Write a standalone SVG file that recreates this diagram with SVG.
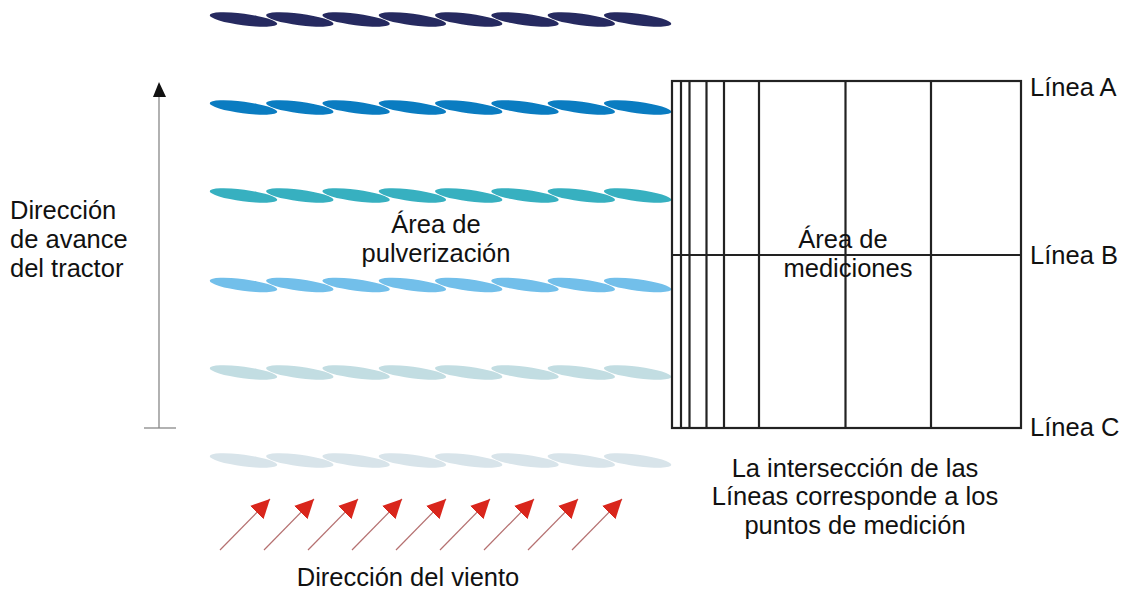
<svg xmlns="http://www.w3.org/2000/svg" width="1131" height="589" viewBox="0 0 1131 589">
<defs>
<style>
text{font-family:"Liberation Sans",Arial,sans-serif;font-size:25.5px;fill:#111}
.grid line,.grid rect{stroke:#222;stroke-width:2.2;fill:none}
.wind line{stroke:#b57070;stroke-width:1.2}
</style>
<ellipse id="e" cx="0" cy="0" rx="34" ry="5.8" transform="rotate(7.5)"/>
<g id="row">
<use href="#e" x="243.5"/><use href="#e" x="299.8"/><use href="#e" x="356.1"/><use href="#e" x="412.4"/>
<use href="#e" x="468.7"/><use href="#e" x="525"/><use href="#e" x="581.3"/><use href="#e" x="637.6"/>
</g>
<marker id="wh" viewBox="0 0 10 10" refX="10" refY="5" markerWidth="19" markerHeight="19" markerUnits="userSpaceOnUse" orient="auto">
<path d="M0,0 L10,5 L0,10 z" fill="#d9261c"/>
</marker>
</defs>
<rect width="1131" height="589" fill="#fff"/>
<g id="spray-rows">
<use href="#row" y="19.5" fill="#262a60"/>
<use href="#row" y="107.5" fill="#0a7cc1"/>
<use href="#row" y="195.5" fill="#37b0c0"/>
<use href="#row" y="285" fill="#72bfea"/>
<use href="#row" y="372.5" fill="#c2dde2"/>
<use href="#row" y="460.5" fill="#d8e4ea"/>
</g>
<g id="tractor-arrow">
<line x1="159" y1="428" x2="159" y2="95" stroke="#888" stroke-width="1.3"/>
<polygon points="159,82 153,97 166,97" fill="#111"/>
<line x1="144" y1="428" x2="176" y2="428" stroke="#888" stroke-width="1.3"/>
</g>
<g id="tractor-label">
<text x="10" y="219">Dirección</text>
<text x="10" y="248">de avance</text>
<text x="10" y="277">del tractor</text>
</g>
<g id="spray-label">
<text x="436" y="233" text-anchor="middle">Área de</text>
<text x="436" y="262" text-anchor="middle">pulverización</text>
</g>
<g id="measure-grid" class="grid">
<rect x="672" y="81" width="349" height="347"/>
<line x1="681" y1="81" x2="681" y2="428"/>
<line x1="689.5" y1="81" x2="689.5" y2="428"/>
<line x1="706.5" y1="81" x2="706.5" y2="428"/>
<line x1="724" y1="81" x2="724" y2="428"/>
<line x1="759" y1="81" x2="759" y2="428"/>
<line x1="845.5" y1="81" x2="845.5" y2="428"/>
<line x1="931" y1="81" x2="931" y2="428"/>
<line x1="672" y1="255" x2="1021" y2="255"/>
</g>
<g id="measure-label">
<text x="843" y="248" text-anchor="middle">Área de</text>
<text x="848" y="277" text-anchor="middle">mediciones</text>
</g>
<g id="line-labels">
<text x="1030" y="96">Línea A</text>
<text x="1030" y="264">Línea B</text>
<text x="1030" y="436">Línea C</text>
</g>
<g id="wind" class="wind">
<line x1="220" y1="550" x2="270" y2="499" marker-end="url(#wh)"/>
<line x1="264" y1="550" x2="314" y2="499" marker-end="url(#wh)"/>
<line x1="308" y1="550" x2="358" y2="499" marker-end="url(#wh)"/>
<line x1="352" y1="550" x2="402" y2="499" marker-end="url(#wh)"/>
<line x1="396" y1="550" x2="446" y2="499" marker-end="url(#wh)"/>
<line x1="440" y1="550" x2="490" y2="499" marker-end="url(#wh)"/>
<line x1="484" y1="550" x2="534" y2="499" marker-end="url(#wh)"/>
<line x1="528" y1="550" x2="578" y2="499" marker-end="url(#wh)"/>
<line x1="572" y1="550" x2="622" y2="499" marker-end="url(#wh)"/>
</g>
<g id="wind-label">
<text x="408" y="586" text-anchor="middle">Dirección del viento</text>
</g>
<g id="note">
<text x="855" y="477" text-anchor="middle">La intersección de las</text>
<text x="855" y="505" text-anchor="middle">Líneas corresponde a los</text>
<text x="855" y="534" text-anchor="middle">puntos de medición</text>
</g>
</svg>
